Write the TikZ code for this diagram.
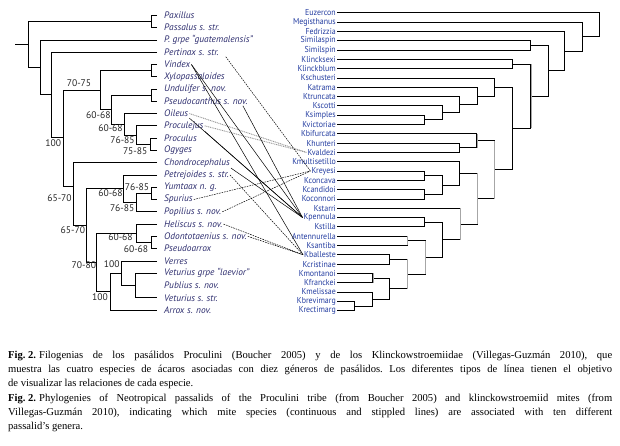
\documentclass[tikz,border=0pt]{standalone}
\usepackage{graphicx}
\usepackage{fontspec}
\setmainfont{Liberation Serif}
\newfontfamily\labfont{PT Sans}
\newcommand\rsq[1]{\scalebox{0.92}[1]{#1}}
\definecolor{leftblue}{RGB}{45,45,110}
\definecolor{rightblue}{RGB}{35,60,160}
\begin{document}
\begin{tikzpicture}[x=1pt,y=-1pt,
  br/.style={line width=0.7pt, black},
  gbr/.style={line width=1.1pt, black!35},
  ltip/.style={anchor=west, inner sep=1pt, font=\labfont\itshape\fontsize{9.4}{9}\selectfont, text=leftblue},
  rtip/.style={anchor=east, inner sep=1pt, font=\labfont\fontsize{8.6}{9}\selectfont, text=rightblue},
  supp/.style={inner sep=0pt, font=\labfont\fontsize{9.6}{9}\selectfont, text=black!85},
  solidc/.style={line width=0.5pt, black},
  dashc/.style={line width=0.5pt, black, dash pattern=on 1.6pt off 1pt},
  dotc/.style={line width=0.9pt, black!40, dash pattern=on 1pt off 0.8pt}]
\useasboundingbox (0,0) rectangle (620,446);
% ---------- left tips ----------
\foreach \i/\txt in {0/Paxillus,1/Passalus s. str.,2/P. grpe “guatemalensis”,3/Pertinax s. str.,4/Vindex,5/Xylopassaloides,6/Undulifer s. nov.,7/Pseudocanthus s. nov.,8/Oileus,9/Proculejus,10/Proculus,11/Ogyges,12/Chondrocephalus,13/Petrejoides s. str.,14/Yumtaax n. g.,15/Spurius,16/Popilius s. nov.,17/Heliscus s. nov.,18/Odontotaenius s. nov.,19/Pseudoarrox,20/Verres,21/Veturius grpe “laevior”,22/Publius s. nov.,23/Veturius s. str.,24/Arrox s. nov.}{
  \node[ltip] (L\i) at (163,15.3+12.28*\i) {\txt};
  \coordinate (t\i) at (157,15.3+12.28*\i);
}
% ---------- left internal nodes ----------
\coordinate (npp) at (151,21.45);
\coordinate (nvx) at (151.7,70.55);
\coordinate (nup) at (151.7,95.15);
\coordinate (npo) at (150,144.25);
\coordinate (nE) at (136.7,135);
\coordinate (nD) at (124,124.3);
\coordinate (nC) at (111.7,109.7);
\coordinate (nA) at (100,90.1);
\coordinate (nys) at (151.7,193.35);
\coordinate (nW) at (136.7,202.6);
\coordinate (nY) at (123.3,188.7);
\coordinate (nop) at (151.7,242.45);
\coordinate (nH) at (136.7,233.3);
\coordinate (nvet) at (135,285.45);
\coordinate (nVb) at (121.7,273.2);
\coordinate (nV) at (110,291.6);
\coordinate (nZ) at (96.7,262.5);
\coordinate (nX) at (86,225.6);
\coordinate (nB) at (73.3,186);
\coordinate (nbig) at (63.3,137);
\coordinate (npert) at (51.7,94.5);
\coordinate (npg) at (40,67.2);
\coordinate (nroot) at (28,44.3);
\coordinate (rstub) at (15,44.3);
\foreach \n/\a/\b in {npp/t0/t1, nvx/t4/t5, nup/t6/t7, npo/t10/t11, nE/t9/npo, nD/t8/nE, nC/nup/nD, nA/nvx/nC,
  nys/t14/t15, nW/nys/t16, nY/t13/nW, nop/t18/t19, nH/t17/nop, nvet/t21/t23, nVb/t20/nvet, nV/nVb/t24,
  nZ/nH/nV, nX/nY/nZ, nB/t12/nX, nbig/nA/nB, npert/t3/nbig, npg/t2/npert, nroot/npp/npg}{
  \draw[br] (\a) -- (\a -| \n) |- (\b);
}
\draw[br] (rstub) -- (nroot);
% ---------- support values ----------
\foreach \p/\v in {{(79,83.3)}/70-75, {(98.3,115)}/60-68, {(110.5,128.3)}/60-68, {(122.5,140)}/76-85, {(135.2,150.7)}/75-85,
  {(53.3,143.3)}/100, {(59.5,198.3)}/65-70, {(72.8,230)}/65-70, {(110.5,193.3)}/60-68, {(137,186.7)}/76-85,
  {(122.2,208.3)}/76-85, {(120.5,237.3)}/60-68, {(136,249)}/60-68, {(83.8,265)}/70-80, {(111.7,264.3)}/100, {(100,296.7)}/100}{
  \node[supp] at \p {\v};
}
% ---------- right tips ----------
\foreach \i/\txt in {0/Euzercon,1/Megisthanus,2/Fedrizzia,3/Similaspin,4/Similspin,5/Klincksexi,6/Klinckblum,7/Kschusteri,8/Katrama,9/Ktruncata,10/Kscotti,11/Ksimples,12/Kvictoriae,13/Kbifurcata,14/Khunteri,15/Kvaldezi,16/Kmultisetillo,17/Kreyesi,18/Kconcava,19/Kcandidoi,20/Koconnori,21/Kstarri,22/Kpennula,23/Kstilla,24/Antennurella,25/Ksantiba,26/Kballeste,27/Kcristinae,28/Kmontanoi,29/Kfranckei,30/Kmelissae,31/Kbrevimarg,32/Krectimarg}{
  \node[rtip] (R\i) at (337,12.7+9.31*\i) {\rsq{\txt}};
}
% right internal nodes
\coordinate (kbr) at (354.3,305.95);
\coordinate (kmel) at (372.7,298.98);
\coordinate (kmf) at (372.7,278);
\coordinate (kmm) at (389.3,288.5);
\coordinate (kbc) at (389.3,259.35);
\coordinate (kbb) at (407.3,273.9);
\coordinate (kaa) at (407.3,240.75);
\coordinate (kab) at (425,257.3);
\coordinate (kp) at (424.3,222.15);
\coordinate (kpb) at (442.3,239.7);
\coordinate (kst) at (460,223.95);
\coordinate (kr) at (424.3,175.65);
\coordinate (kc) at (424.3,194.25);
\coordinate (krc) at (442.3,184.95);
\coordinate (km) at (459.3,173.3);
\coordinate (kmk) at (477.3,198.6);
\coordinate (kh) at (459.3,147.65);
\coordinate (kb) at (476.7,140.7);
\coordinate (kbk) at (494.3,169.65);
\coordinate (kv) at (424.3,119.75);
\coordinate (ksc) at (442.7,112.8);
\coordinate (kt) at (459.3,104.65);
\coordinate (ka) at (477.3,95.9);
\coordinate (ks) at (494.3,86.9);
\coordinate (kks) at (512.7,128.3);
\coordinate (kk) at (512.7,63.9);
\coordinate (kkk) at (530.7,96.1);
\coordinate (ksi) at (530.7,45.25);
\coordinate (kss) at (548.3,70.7);
\coordinate (km2) at (564.3,51);
\coordinate (km1) at (582.7,36.5);
\coordinate (kroot) at (599.3,24.6);
\foreach \n/\a/\b in {kbr/R31.east/R32.east, kmel/R30.east/kbr, kmf/R28.east/R29.east, kmm/kmf/kmel, kbc/R26.east/R27.east,
  kbb/kbc/kmm, kaa/R24.east/R25.east, kab/kaa/kbb, kp/R22.east/R23.east, kpb/kp/kab, kst/R21.east/kpb,
  kr/R17.east/R18.east, kc/R19.east/R20.east, krc/kr/kc, km/R16.east/krc, kmk/km/kst, kh/R14.east/R15.east,
  kb/R13.east/kh, kbk/kb/kmk, kv/R11.east/R12.east, ksc/R10.east/kv, kt/R9.east/ksc, ka/R8.east/kt, ks/R7.east/ka,
  kks/ks/kbk, kk/R5.east/R6.east, kkk/kk/kks, ksi/R3.east/R4.east, kss/ksi/kkk, km2/R2.east/kss, km1/R1.east/km2, kroot/R0.east/km1}{
  \draw[br] (\a) -- (\a -| \n) |- (\b);
}
\foreach \n/\a/\b in {kkk/kk/kks, kb/R13.east/kh, kbk/kb/kmk, kmk/km/kst, kst/R21.east/kpb, kab/kaa/kbb, kbb/kbc/kmm, kaa/R24.east/R25.east, kmf/R28.east/R29.east}{
  \draw[gbr] ([xshift=0.6pt]\a -| \n) -- ([xshift=0.6pt]\b -| \n);
}
% ---------- connectors ----------
\draw[dotc] (L8.east) -- (R15.west);
\draw[dotc] (L9.east) -- (R15.west);
\draw[dashc] ([xshift=6pt]L3.south east) -- (R17.west);
\draw[dashc] (L15.east) -- (R17.west);
\draw[dashc] (L16.east) -- (R17.west);
\draw[dashc] (L13.east) -- (R26.west);
\draw[dashc] (L17.east) -- (R26.west);
\draw[dashc] (L18.east) -- (R26.west);
\draw[solidc] (L4.east) -- (R22.west);
\draw[solidc] (L4.east) -- (R26.west);
\draw[solidc] ([xshift=-6pt]L7.south east) -- (R22.west);
\draw[solidc] (L8.south east) -- (R22.west);
\draw[solidc] (L9.south east) -- (R22.west);
\draw[solidc] (L12.south east) -- (R22.west);
% ---------- caption ----------
\node[anchor=north west, inner sep=0pt, text width=604pt, align=justify, font=\frenchspacing\fontsize{10.6}{14.2}\selectfont] (cap) at (8,351)
{\textbf{Fig.\hspace{2.6pt}2.}\hspace{3pt}Filogenias de los pasálidos Proculini (Boucher 2005) y de los Klinckowstroemiidae (Villegas-Guzmán 2010), que\linebreak
muestra las cuatro especies de ácaros asociadas con diez géneros de pasálidos. Los diferentes tipos de línea tienen el objetivo\linebreak
de visualizar las relaciones de cada especie.\\
\textbf{Fig.\hspace{2.6pt}2.}\hspace{3pt}Phylogenies of Neotropical passalids of the Proculini tribe (from Boucher 2005) and klinckowstroemiid mites (from\linebreak
Villegas-Guzmán 2010), indicating which mite species (continuous and stippled lines) are associated with ten different\linebreak
passalid’s genera.};
\end{tikzpicture}
\end{document}
